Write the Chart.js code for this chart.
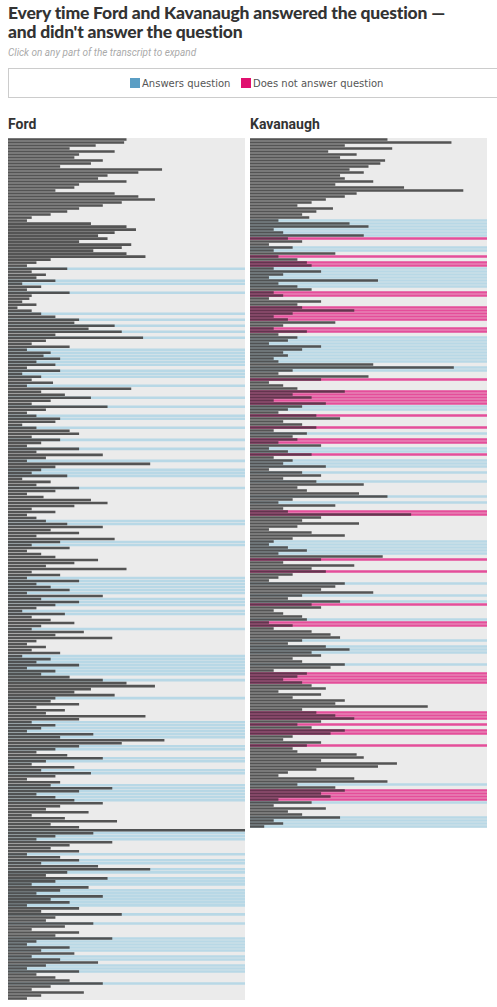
<!DOCTYPE html>
<html><head><meta charset="utf-8">
<script src="https://cdn.jsdelivr.net/npm/chart.js@4"></script>
<style>
body{margin:0;width:497px;height:1007px;background:#fff;font-family:Roboto,"Noto Sans",sans-serif;position:relative;overflow:hidden}
h1{position:absolute;left:8px;top:3px;margin:0;font:900 17.5px/19px Lato,Roboto,sans-serif;color:#333;letter-spacing:-0.2px}
.sub{position:absolute;left:8px;top:47px;font:italic 10px Roboto,sans-serif;color:#aaa}
.leg{position:absolute;left:8px;top:68px;width:495px;height:30px;border:1px solid #ccc;box-sizing:border-box;font:10px "DejaVu Sans",sans-serif;color:#555}
.leg span{position:absolute;top:9px}
.sw{display:inline-block;width:10px;height:10px;vertical-align:-1px;margin-right:2px}
.pt{position:absolute;top:116px;font:bold 14px Roboto,sans-serif;color:#333}
.panel{position:absolute;top:138px;width:237px;background:#ebebeb}
</style></head><body>
<h1>Every time Ford and Kavanaugh answered the question —<br>and didn't answer the question</h1>
<div class="sub">Click on any part of the transcript to expand</div>
<div class="leg"><span style="left:121px"><i class="sw" style="background:#5b9ec4"></i>Answers question</span><span style="left:232px"><i class="sw" style="background:#e0106f"></i>Does not answer question</span></div>
<div class="pt" style="left:8px">Ford</div>
<div class="pt" style="left:250px">Kavanaugh</div>
<div class="panel" style="left:8px;height:862px"><canvas id="ford"></canvas></div>
<div class="panel" style="left:250px;height:690px"><canvas id="kav"></canvas></div>
<script>
const fordLengths=[50,49,37,26,45,30,28,40,35,22,65,55,42,38,50,30,28,20,45,55,62,48,40,30,25,18,10,8,35,50,54,45,38,42,30,52,48,36,50,58,
18,12,8,25,10,16,12,20,6,14, 8,26,10,9,6,12,4,10,14,20, 30,28,45,34,48,20,57,16,10,26, 8,18,15,22,12,20,8,22,6,14,
10,19,8,52,14,24,35,18,10,42, 16,8,12,22,20,6,12,26,30,10, 22,14,8,30,12,40,16,8,60,20, 14,10,25,6,18,12,30,20,8,15,
35,42,28,10,20,8,12,16,25,40, 18,30,12,45,22,10,26,8,14,20, 38,28,16,50,10,22,8,30,12,18, 26,8,40,14,30,20,12,6,24,10,
18,28,14,10,32,20,44,12,8,16, 10,22,6,18,12,30,8,20,14,26, 40,50,62,35,28,45,20,18,30,12, 24,16,58,30,10,20,14,8,36,22,
66,48,30,20,12,25,40,16,10,28, 14,35,20,8,22,18,44,30,12,20, 28,40,22,16,34,10,24,46,18,30, 100,36,20,12,44,26,18,30,8,22,
30,14,38,60,25,16,42,20,10,34, 22,12,40,18,26,8,30,14,48,20, 16,36,24,10,30,20,44,12,8,26, 14,28,10,22,38,16,8,30,12,20,
26,40,18,10,32,14,8];
const fordTypes=("........................................"+
"...a...aa."+".a......a."+"a.a.a.a..."+"aaaaaa.aaa"+"..a...a..a"+"..aa..a..."+"a..a...a.."+"aaa...a..."+".......aa."+"....aa...."+
"......aaaa"+"aa.aaa.aa."+"...a......"+"..aaaaaaa."+"a.....a..."+"....aaaaaa"+"..aa..aa.."+"aa...aaaaa"+"a........."+"aaaa....a."+
"aa.aa.aaa."+"aaaaaa..a."+".a....aaaa"+"a.aa.aaa.."+".a.....").split("");
const kavLengths=[58,85,40,60,33,45,38,57,55,50,42,48,38,40,52,36,65,90,45,40,32,26,20,35,28,22,25,
12,42,50,10,14,48,16,22,8,18,10,36,12, 20,24,26,10,30,14,8,54,12,20, 26,10,14,8,30,20,22,44,18,10, 16,36,14,10,24,12,20,16,8,30,
22,14,16,10,12,52,86,18,12,50, 30,8,14,20,40,18,26,10,32,22, 16,12,28,38,14,22,28,10,24,18, 20,12,30,8,16,26,10,18,14,32,
8,22,30,14,28,48,20,24,46,58, 18,12,36,14,16,68,30,22,46,20, 8,26,40,18,10,8,16,24,12,56, 30,14,44,26,32,18,12,8,40,36,
30,52,22,16,38,26,30,10,14,22, 24,8,18,10,26,34,38,22,16,32, 42,26,30,18,22,40,34,10,24,20, 14,22,26,32,12,30,18,40,36,75,
22,28,36,44,30,20,26,40,34,18, 14,30,24,18,20,45,48,30,62,54, 28,16,12,44,58,20,36,40,30,34, 12,26,10,32,16,22,38,10,14,6];
const kavTypes=(".........."+".........."+".......aaa"+"aaan..aa.n"+".nnaaaaaaa"+".nn...nnnn"+"n..nn.aaaa"+"aaaaa.aa.."+"n...nnnnna"+"a.n...n.a."+
"nn.aan.aaa"+".a..a....a"+".a..nn...."+"....aaaaa."+"n...n...a."+"..a.an...."+"ann....a.a"+"aa...a..nn"+"nn........"+".nnn.n.nn."+
"..n......."+".....a.nnn"+"na....aaaa").split("");
const hiColor={a:"rgba(184,216,230,1)",n:"rgba(228,70,150,0.95)"};
function make(id,lengths,types,h){
  const c=document.getElementById(id);c.parentNode.style.height=h+"px";
  const labels=lengths.map((_,i)=>i);
  new Chart(c,{type:"bar",data:{labels,datasets:[
    {data:lengths,backgroundColor:lengths.map((_,i)=>types[i]==="n"?"rgba(85,50,70,0.9)":"rgba(70,70,70,0.92)"),barPercentage:0.85,categoryPercentage:1,grouped:false,order:0},
    {data:types.map(t=>t==="."?0:100),backgroundColor:types.map(t=>hiColor[t]||"rgba(0,0,0,0)"),barPercentage:0.85,categoryPercentage:1,grouped:false,order:1}
  ]},options:{indexAxis:"y",responsive:true,maintainAspectRatio:false,animation:false,
    layout:{padding:0},plugins:{legend:{display:false},tooltip:{enabled:false}},
    scales:{x:{display:false,min:0,max:100},y:{display:false}}}});
}
make("ford",fordLengths,fordTypes,862);
make("kav",kavLengths,kavTypes,690);
</script></body></html>
